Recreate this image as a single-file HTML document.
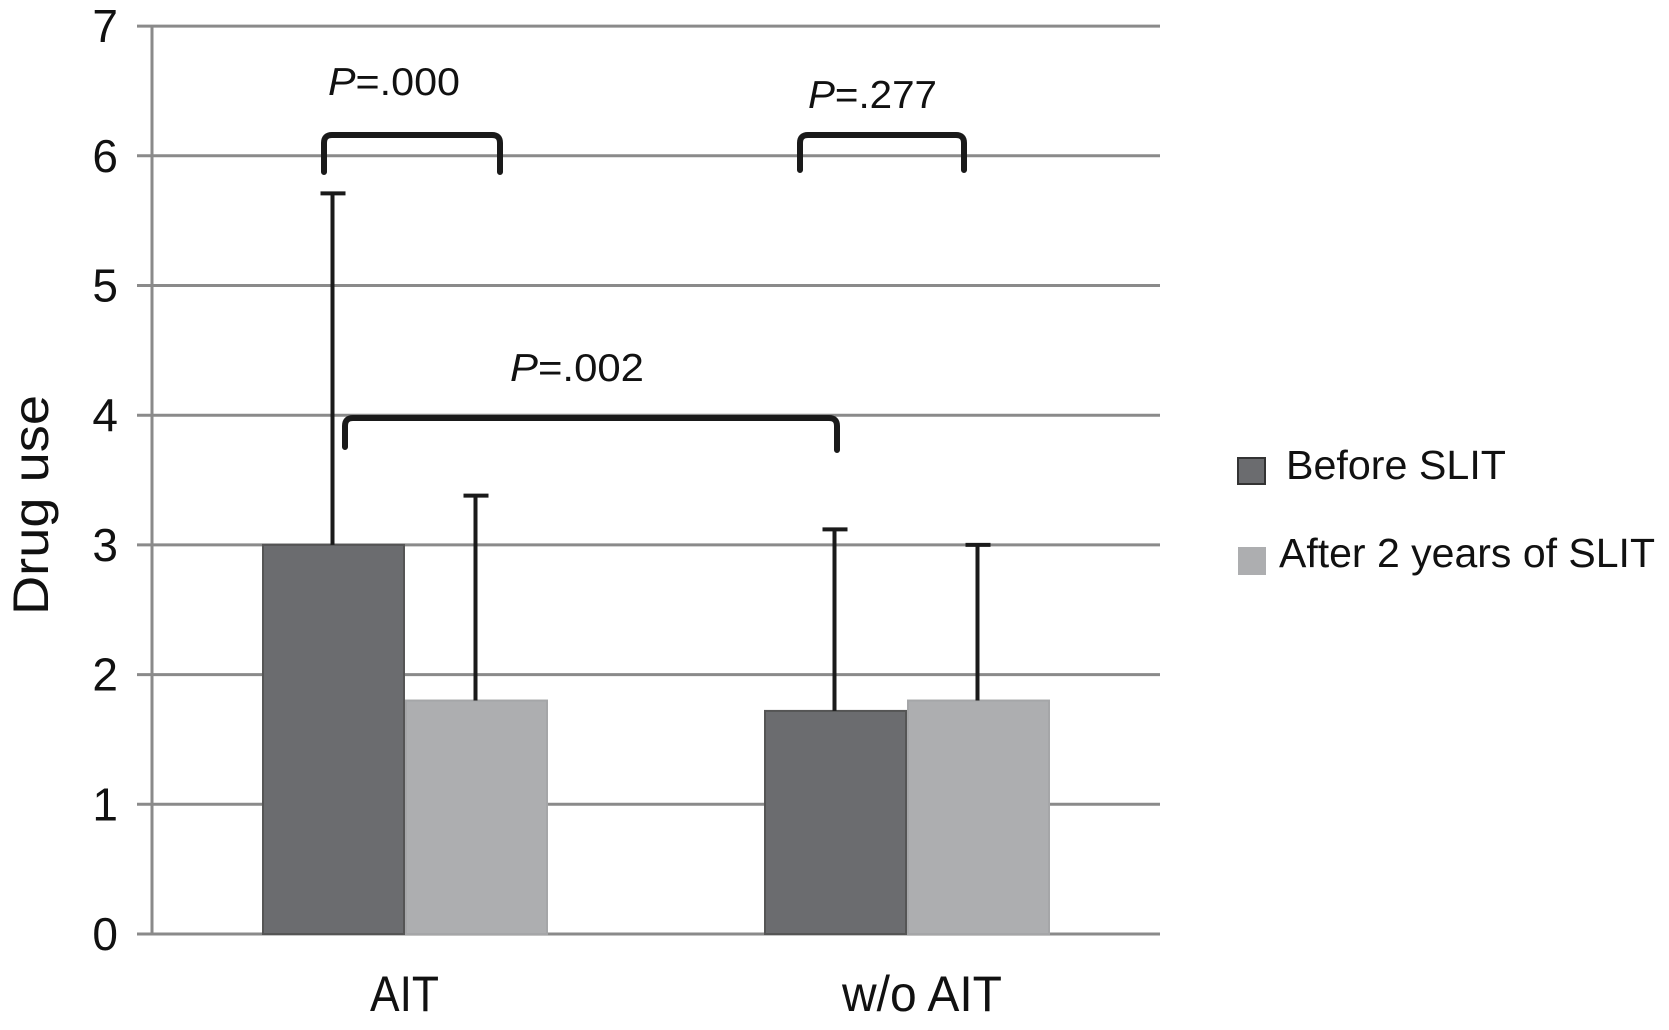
<!DOCTYPE html>
<html><head><meta charset="utf-8"><style>
html,body{margin:0;padding:0;background:#fff;}
svg{display:block;font-family:"Liberation Sans",Arial,sans-serif;}
</style></head><body>
<svg id="chart" width="1669" height="1030" viewBox="0 0 1669 1030" xmlns="http://www.w3.org/2000/svg">
<g id="grid"></g>
<g id="bars"></g>
<g id="errs"></g>
<g id="ticks"></g>
<line x1="152" y1="26" x2="152" y2="934" stroke="#8a8a8a" stroke-width="3"/>
<text transform="translate(48,505) rotate(-90)" text-anchor="middle" font-size="50" fill="#111" textLength="220" lengthAdjust="spacingAndGlyphs">Drug use</text>
<g id="cats"></g>
<g fill="none" stroke="#1a1a1a" stroke-width="6" stroke-linejoin="round" stroke-linecap="round">
<path d="M324 172 V143 Q324 135 332 135 H492 Q500 135 500 143 V172"/>
<path d="M800 170 V143 Q800 135 808 135 H956 Q964 135 964 143 V170"/>
<path d="M345 447 V426 Q345 418 353 418 H829 Q837 418 837 426 V450"/>
</g>
<g font-size="39" fill="#111">
<text x="328" y="95" textLength="132" lengthAdjust="spacingAndGlyphs"><tspan font-style="italic">P</tspan>=.000</text>
<text x="808" y="108" textLength="129" lengthAdjust="spacingAndGlyphs"><tspan font-style="italic">P</tspan>=.277</text>
<text x="510" y="381" textLength="134" lengthAdjust="spacingAndGlyphs"><tspan font-style="italic">P</tspan>=.002</text>
</g>
<g>
<rect x="1238" y="458" width="27" height="26" fill="#6b6c6f" stroke="#333" stroke-width="2"/>
<text x="1286" y="479" font-size="41" fill="#111" textLength="220" lengthAdjust="spacingAndGlyphs">Before SLIT</text>
<rect x="1238" y="547" width="28" height="28" fill="#adaeb0"/>
<text x="1279" y="567" font-size="41" fill="#111" textLength="376" lengthAdjust="spacingAndGlyphs">After 2 years of SLIT</text>
</g>
</svg>
<script>
const categories = ["AIT", "w/o AIT"];
const beforeValues = [3.0, 1.72];
const afterValues = [1.8, 1.8];
const beforeErrTop = [5.71, 3.12];
const afterErrTop = [3.38, 3.0];
const yTicks = [0, 1, 2, 3, 4, 5, 6, 7];

const NS = "http://www.w3.org/2000/svg";
const y0 = 934, yStep = 129.7;
function yScale(v){ return y0 - v * yStep; }
const groupStart = [263, 765];
const barW = 141, barGap = 2;
const labelLeft = [370, 842];
const labelLen = [69, 160];
function barX(g, s){ return groupStart[g] + s * (barW + barGap); }
function mk(tag, attrs, parent){ const e = document.createElementNS(NS, tag); for (const k in attrs) e.setAttribute(k, attrs[k]); parent.appendChild(e); return e; }

const grid = document.getElementById('grid');
const ticks = document.getElementById('ticks');
yTicks.forEach(t => {
  const l = mk('line', {x1:137, x2:1160, y1:yScale(t), y2:yScale(t), stroke:'#8a8a8a', 'stroke-width':3}, grid);
  
  
  const tx = mk('text', {x:118, y:yScale(t)+16, 'text-anchor':'end', 'font-size':46, fill:'#111'}, ticks);
  tx.textContent = String(t);
  
  
});

const bars = document.getElementById('bars');
const errs = document.getElementById('errs');
const series = [
  {vals: beforeValues, err: beforeErrTop, fill:'#6b6c6f', stroke:'#555', name:'before'},
  {vals: afterValues, err: afterErrTop, fill:'#adaeb0', stroke:'#a5a6a8', name:'after'}
];
categories.forEach((c, g) => {
  series.forEach((s, si) => {
    const x = barX(g, si);
    const r = mk('rect', {x:x, y:yScale(s.vals[g]), width:barW, height:y0 - yScale(s.vals[g]), fill:s.fill, stroke:s.stroke, 'stroke-width':2}, bars);
    
    
    const cx = x + barW/2 - 1;
    const e = mk('path', {d:'M'+cx+' '+yScale(s.vals[g])+' V'+yScale(s.err[g])+' M'+(cx-12)+' '+yScale(s.err[g])+' H'+(cx+13), stroke:'#1a1a1a', 'stroke-width':4, fill:'none'}, errs);
    
    
  });
  const t = mk('text', {x: labelLeft[g], y:1011, 'font-size':50, fill:'#111', textLength: labelLen[g], lengthAdjust:'spacingAndGlyphs'}, document.getElementById('cats'));
  t.textContent = c;
  
  
});
</script>
</body></html>
